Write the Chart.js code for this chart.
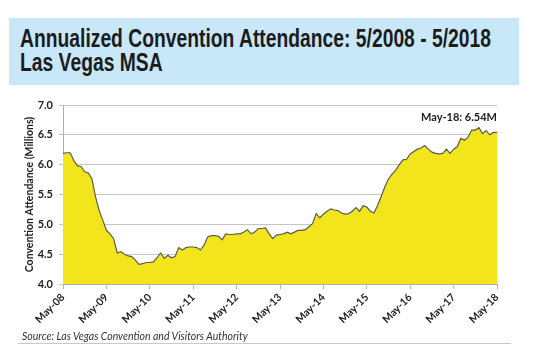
<!DOCTYPE html>
<html>
<head>
<meta charset="utf-8">
<script src="https://cdn.jsdelivr.net/npm/chart.js@4/dist/chart.umd.min.js"></script>
<style>
  html, body { margin: 0; padding: 0; background: #fff; }
  #wrap { position: relative; width: 540px; height: 359px; overflow: hidden; }
  #titlebox { position: absolute; left: 9px; top: 18px; width: 510px; height: 67px; background: #c8e8fa; }
  .tl { position: absolute; left: 20px; white-space: nowrap; font-family: "Liberation Sans Narrow", "Liberation Sans", Arial, sans-serif; font-weight: bold; font-size: 25px; color: #1c1c1c; transform-origin: 0 0; line-height: 25px; }
  #t1 { top: 26px; }
  #t2 { top: 50px; }
  #src { position: absolute; left: 22px; top: 330px; font-family: Lato, "Open Sans", sans-serif; font-style: italic; font-size: 10.5px; color: #333; white-space: nowrap; }
  #rule { position: absolute; left: 18px; top: 343px; width: 493px; height: 1px; background: #c8c8c8; }
  canvas { position: absolute; left: 0; top: 0; }
</style>
</head>
<body>
<div id="wrap">
  <div id="titlebox"></div>
  <div class="tl" id="t1">Annualized Convention Attendance: 5/2008 - 5/2018</div>
  <div class="tl" id="t2">Las Vegas MSA</div>
  <canvas id="c" width="540" height="359"></canvas>
  <div id="src">Source: Las Vegas Convention and Visitors Authority</div>
  <div id="rule"></div>
</div>
<script>
// Year tick labels (every May)
const tickLabels = ["May-08","May-09","May-10","May-11","May-12","May-13","May-14","May-15","May-16","May-17","May-18"];
const monthNames = ["May","Jun","Jul","Aug","Sep","Oct","Nov","Dec","Jan","Feb","Mar","Apr"];

// Annualized convention attendance (millions), monthly May-08 .. May-18
const attendance2008 = [6.19,6.20,6.20,6.07,5.98,5.97,5.88,5.86,5.76,5.46,5.23,5.07];
const attendance2009 = [4.90,4.84,4.76,4.52,4.54,4.50,4.47,4.46,4.40,4.33,4.34,4.36];
const attendance2010 = [4.36,4.37,4.44,4.52,4.43,4.48,4.44,4.46,4.61,4.57,4.61,4.62];
const attendance2011 = [4.62,4.61,4.57,4.65,4.79,4.81,4.81,4.80,4.74,4.84,4.83,4.83];
const attendance2012 = [4.84,4.84,4.87,4.91,4.84,4.87,4.93,4.93,4.94,4.84,4.76,4.82];
const attendance2013 = [4.83,4.84,4.87,4.84,4.87,4.90,4.90,4.91,4.96,5.01,5.18,5.11];
const attendance2014 = [5.17,5.22,5.26,5.24,5.23,5.19,5.17,5.18,5.22,5.28,5.22,5.31];
const attendance2015 = [5.29,5.22,5.19,5.32,5.47,5.63,5.76,5.84,5.91,6.00,6.08,6.09];
const attendance2016 = [6.18,6.22,6.26,6.28,6.32,6.26,6.21,6.19,6.18,6.19,6.26,6.19];
const attendance2017 = [6.26,6.30,6.44,6.41,6.46,6.58,6.58,6.62,6.52,6.57,6.50,6.54];
const attendance2018 = [6.54];

const values = [].concat(attendance2008, attendance2009, attendance2010, attendance2011,
  attendance2012, attendance2013, attendance2014, attendance2015, attendance2016,
  attendance2017, attendance2018);

const categories = [];
for (let y = 0; y < tickLabels.length; y++) {
  const yy = tickLabels[y].slice(4);
  const yyNext = y + 1 < tickLabels.length ? tickLabels[y + 1].slice(4) : yy;
  for (let m = 0; m < 12; m++) {
    if (y === tickLabels.length - 1 && m > 0) break;
    categories.push(monthNames[m] + "-" + (m >= 8 ? yyNext : yy));
  }
}

// fit title lines
function fitTitle() {
  const t1 = document.getElementById('t1');
  const t2 = document.getElementById('t2');
  const w = t1.getBoundingClientRect().width;
  const s = 471 / w;
  t1.style.transform = 'scaleX(' + s + ')';
  t2.style.transform = 'scaleX(' + s + ')';
}
fitTitle();

const labelFont = { family: 'Lato, "Open Sans", sans-serif', weight: 'bold', size: 10.5 };

const annotationPlugin = {
  id: 'lastLabel',
  afterDatasetsDraw(chart) {
    const meta = chart.getDatasetMeta(0);
    const last = meta.data[meta.data.length - 1];
    const ctx = chart.ctx;
    ctx.save();
    ctx.font = 'bold 11px Lato, "Open Sans", sans-serif';
    ctx.fillStyle = '#222';
    ctx.textAlign = 'right';
    ctx.textBaseline = 'middle';
    const i = values.length - 1;
    ctx.fillText(categories[i] + ': ' + values[i].toFixed(2) + 'M', last.x, last.y - 15);
    ctx.restore();
  }
};

new Chart(document.getElementById('c'), {
  type: 'line',
  data: {
    labels: categories,
    datasets: [{
      data: values,
      borderColor: '#5a5a50',
      borderWidth: 1.2,
      backgroundColor: '#f2e51b',
      fill: 'start',
      pointRadius: 0,
      tension: 0
    }]
  },
  options: {
    responsive: false,
    animation: false,
    events: [],
    layout: { padding: { left: 0, right: 43, top: 105, bottom: 0 } },
    plugins: { legend: { display: false }, tooltip: { enabled: false }, title: { display: false } },
    scales: {
      x: {
        type: 'category',
        offset: false,
        afterFit(scale) { scale.height = 75; },
        border: { display: true, color: '#b0b0b0', width: 1 },
        grid: {
          drawOnChartArea: false,
          drawTicks: true,
          tickLength: 5,
          color: '#b8b8b8'
        },
        ticks: {
          autoSkip: false,
          maxRotation: 45,
          minRotation: 45,
          padding: 2,
          color: '#222',
          font: labelFont,
          callback(v, idx) { return idx % 12 === 0 ? tickLabels[idx / 12] : null; }
        }
      },
      y: {
        min: 4,
        max: 7,
        afterFit(scale) { scale.width = 63; },
        border: { display: true, color: '#b0b0b0', width: 1 },
        grid: { color: '#cac3c3', tickLength: 4, lineWidth: 1 },
        ticks: {
          stepSize: 0.5,
          padding: 6,
          color: '#222',
          font: { family: 'Lato, "Open Sans", sans-serif', weight: 'bold', size: 11 },
          callback(v) { return v.toFixed(1); }
        },
        title: {
          display: true,
          text: 'Convention Attendance (Millions)',
          color: '#222',
          font: { family: 'Lato, "Open Sans", sans-serif', weight: 'bold', size: 10.5 },
          padding: { top: 23, bottom: 0 }
        }
      }
    }
  },
  plugins: [annotationPlugin]
});
</script>
</body>
</html>
